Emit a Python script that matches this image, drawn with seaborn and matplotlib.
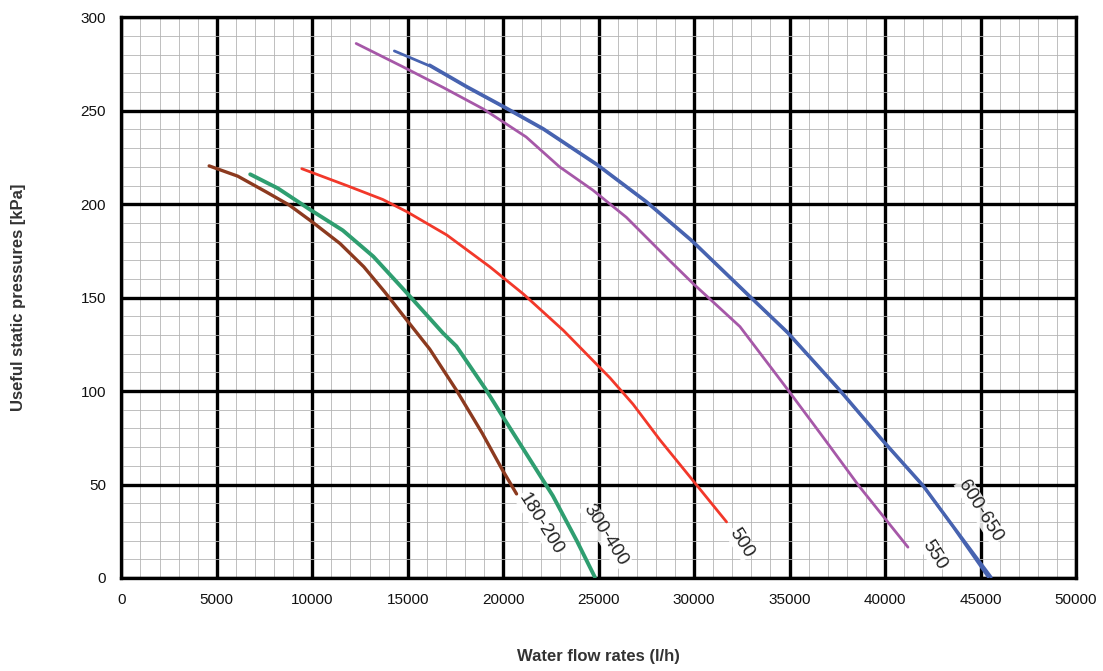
import numpy as np
import pandas as pd
import matplotlib
matplotlib.use("Agg")
import matplotlib.pyplot as plt
import matplotlib.ticker as mtk
import seaborn as sns

# curves (flow l/h, pressure kPa)
flow_180 = [4600, 6100, 7600, 8800, 10000, 11450, 12700, 13800, 14950, 16150, 17550, 18900, 19950, 20700]
kpa_180 = [220.5, 215, 206.5, 199.5, 190.5, 179, 166.5, 153, 138, 122.5, 100.5, 77.5, 58, 45]

flow_300 = [6750, 8200, 9900, 11600, 13200, 15000, 16850, 17550, 19050, 20000, 21550, 22600, 23850, 24800]
kpa_300 = [216, 208.5, 197, 186, 172, 152, 131, 124, 101.5, 86, 61, 44, 20, 0.5]

flow_500 = [9450, 11800, 13700, 14950, 17050, 19300, 21050, 23150, 25600, 26800, 28200, 30150, 31700]
kpa_500 = [219, 210, 202.5, 196, 183.5, 166.5, 152, 132.5, 107, 93, 74, 49.5, 30]

flow_550 = [12300, 14750, 16850, 18950, 21200, 22950, 24700, 26450, 28700, 29950, 32400, 34850, 36600, 38650, 41200]
kpa_550 = [286, 273.5, 262.5, 251, 236, 220, 207.5, 193, 170, 157.5, 134.5, 101.5, 77.5, 49, 16.5]

flow_600 = [14300, 16150, 18100, 20000, 22100, 24900, 27500, 29900, 32900, 34900, 37600, 39900, 42000, 43550, 45400]
kpa_600 = [282, 274, 262.5, 252, 240, 221, 201, 180, 150.5, 131, 100.5, 73, 49, 27.5, 0.5]

flow_650 = [16150, 18100, 20000, 22100, 24900, 27500, 29900, 32900, 34900, 37600, 39900, 42000, 43550, 45550]
kpa_650 = [274.5, 263, 252.5, 240.5, 221.5, 201.5, 180.5, 151, 131.5, 101, 73.5, 49.5, 28, 0.5]

curve_names = ["180-200", "300-400", "500", "550", "600", "650"]
label_text = ["180-200", "300-400", "500", "550", "600-650"]
label_x = [21950, 25350, 32450, 42600, 45000]
label_y = [29, 23, 19, 12.5, 36]

frames = []
for name, fx, py in zip(curve_names,
                        [flow_180, flow_300, flow_500, flow_550, flow_600, flow_650],
                        [kpa_180, kpa_300, kpa_500, kpa_550, kpa_600, kpa_650]):
    frames.append(pd.DataFrame({"flow": fx, "kpa": py, "curve": name}))
df = pd.concat(frames, ignore_index=True)

colors = {"180-200": "#8c3a1f", "300-400": "#2f9e70", "500": "#f2382a",
          "550": "#a658a8", "600": "#4763b0", "650": "#4763b0"}
widths = {"180-200": 2.4, "300-400": 2.8, "500": 2.0, "550": 2.0, "600": 2.0, "650": 2.2}

sns.set_style("white")
plt.rcParams["font.family"] = ["Liberation Sans", "DejaVu Sans"]

fig = plt.figure(figsize=(11.03, 6.71), dpi=100)
ax = fig.add_axes([0.110, 0.1386, 0.8655, 0.8356])

for name in curve_names:
    sub = df[df["curve"] == name]
    sns.lineplot(data=sub, x="flow", y="kpa", sort=False, estimator=None,
                 color=colors[name], lw=widths[name], ax=ax, zorder=5)

ax.set_xlim(0, 50000)
ax.set_ylim(0, 300)
ax.xaxis.set_major_locator(mtk.MultipleLocator(5000))
ax.xaxis.set_minor_locator(mtk.MultipleLocator(1000))
ax.yaxis.set_major_locator(mtk.MultipleLocator(50))
ax.yaxis.set_minor_locator(mtk.MultipleLocator(10))
ax.grid(which="minor", color="#b4b4b4", lw=0.6, zorder=1)
ax.grid(which="major", color="black", lw=2.4, zorder=2)
ax.set_axisbelow(True)
for s in ax.spines.values():
    s.set_color("black")
    s.set_linewidth(2.4)
    s.set_zorder(3)
ax.tick_params(which="major", direction="out", length=5, width=2, color="black",
               labelsize=11, labelcolor="#111111", pad=6)
ax.tick_params(which="minor", length=0)

ax.set_xlabel("Water flow rates (l/h)", fontsize=12, fontweight="bold",
              color="#333333", labelpad=30)
ax.set_ylabel("Useful static pressures [kPa]", fontsize=12, fontweight="bold",
              color="#333333", labelpad=39)

for t, lx, ly in zip(label_text, label_x, label_y):
    ax.text(lx, ly, t, rotation=-58, ha="center", va="center", fontsize=13.5,
            color="#222222", zorder=6,
            bbox=dict(boxstyle="square,pad=0.05", fc="white", ec="none", alpha=0.85))

fig.savefig("out.png", dpi=100)
